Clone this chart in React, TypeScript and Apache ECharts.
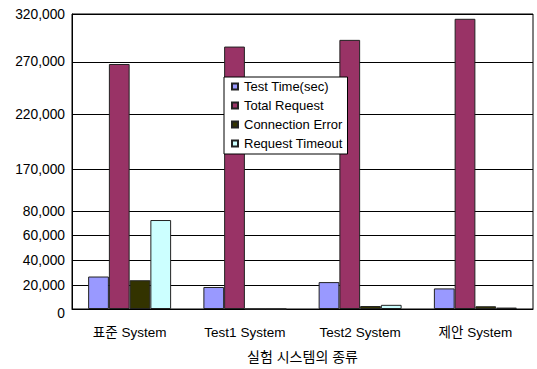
import React, { useEffect, useRef } from "react";
import * as echarts from "echarts";

const categories = ["표준 System", "Test1 System", "Test2 System", "제안 System"];
const seriesNames = ["Test Time(sec)", "Total Request", "Connection Error", "Request Timeout"];
const testTime = [27000, 18500, 22500, 17300];
const totalRequest = [268000, 286000, 293000, 315000];
const connectionError = [24000, 0, 2500, 2300];
const requestTimeout = [73000, 0, 3500, 1200];
const tickValues = [0, 20000, 40000, 60000, 80000, 170000, 220000, 270000, 320000];

// axis layout: where each tick value sits (px above the x axis)
const tickPositions = [0, 24, 49, 74, 98.2, 140.8, 196.5, 249.2, 297.5];
const colors = ["#9999FF", "#993366", "#333300", "#CCFFFF"];

function toPos(v: number): number {
  for (let i = 0; i < tickValues.length - 1; i++) {
    const a = tickValues[i], b = tickValues[i + 1];
    if (v >= a && v <= b) {
      return tickPositions[i] + ((v - a) / (b - a)) * (tickPositions[i + 1] - tickPositions[i]);
    }
  }
  return tickPositions[tickPositions.length - 1];
}

function labelFor(p: number): string {
  for (let i = 0; i < tickPositions.length; i++) {
    if (Math.abs(tickPositions[i] - p) < 0.01) {
      const s = tickValues[i].toLocaleString("en-US");
      return i === 0 ? "{z|" + s + "}" : s;
    }
  }
  return "";
}

export default function App() {
  const ref = useRef<HTMLDivElement>(null);
  useEffect(() => {
    if (!ref.current) return;
    const chart = echarts.init(ref.current, null, { renderer: "svg" });
    const font = "'Liberation Sans', 'Noto Sans CJK KR', sans-serif";
    const all = [testTime, totalRequest, connectionError, requestTimeout];
    chart.setOption({
      animation: false,
      textStyle: { fontFamily: font },
      grid: {
        left: 72,
        right: 4,
        top: 14,
        bottom: 57.5,
        show: true,
        borderColor: "#000",
        borderWidth: 1,
        backgroundColor: "transparent",
      },
      legend: {
        orient: "vertical",
        left: 224,
        top: 77,
        backgroundColor: "#fff",
        borderColor: "#000",
        borderWidth: 1,
        padding: [3, 5, 4, 7],
        itemWidth: 6,
        itemHeight: 6,
        itemGap: 6,
        icon: "rect",
        textStyle: { fontSize: 13, color: "#000", fontFamily: font, padding: [0, 0, 0, 1] },
        data: seriesNames,
      },
      xAxis: {
        type: "category",
        data: categories,
        name: "실험 시스템의 종류",
        nameLocation: "middle",
        nameGap: 41,
        nameTextStyle: { fontSize: 14, color: "#000", fontFamily: font },
        axisLine: { lineStyle: { color: "#000", width: 1 } },
        axisTick: { inside: true, length: 4, lineStyle: { color: "#000" } },
        axisLabel: { fontSize: 13.5, color: "#000", margin: 17, fontFamily: font },
      },
      yAxis: {
        type: "value",
        min: 0,
        max: tickPositions[tickPositions.length - 1],
        axisLine: { show: true, lineStyle: { color: "#000", width: 1 } },
        axisTick: { show: false, customValues: tickPositions },
        axisLabel: {
          customValues: tickPositions,
          fontSize: 13.8,
          color: "#000",
          margin: 7,
          fontFamily: font,
          formatter: (v: number) => labelFor(v),
          rich: { z: { fontSize: 13.8, color: "#000", fontFamily: font, padding: [9, 0, 0, 0] } },
        },
        splitLine: { show: true, lineStyle: { color: "#000", width: 1 } },
      },
      series: seriesNames.map((name, i) => ({
        name,
        type: "bar",
        barGap: "0%",
        barCategoryGap: "28%",
        data: all[i].map((v) => toPos(v)),
        itemStyle: { color: colors[i], borderColor: "#222", borderWidth: 1 },
      })),
    });
    return () => chart.dispose();
  }, []);
  return <div ref={ref} style={{ width: 537, height: 369, position: "absolute", left: 0, top: 0 }} />;
}
